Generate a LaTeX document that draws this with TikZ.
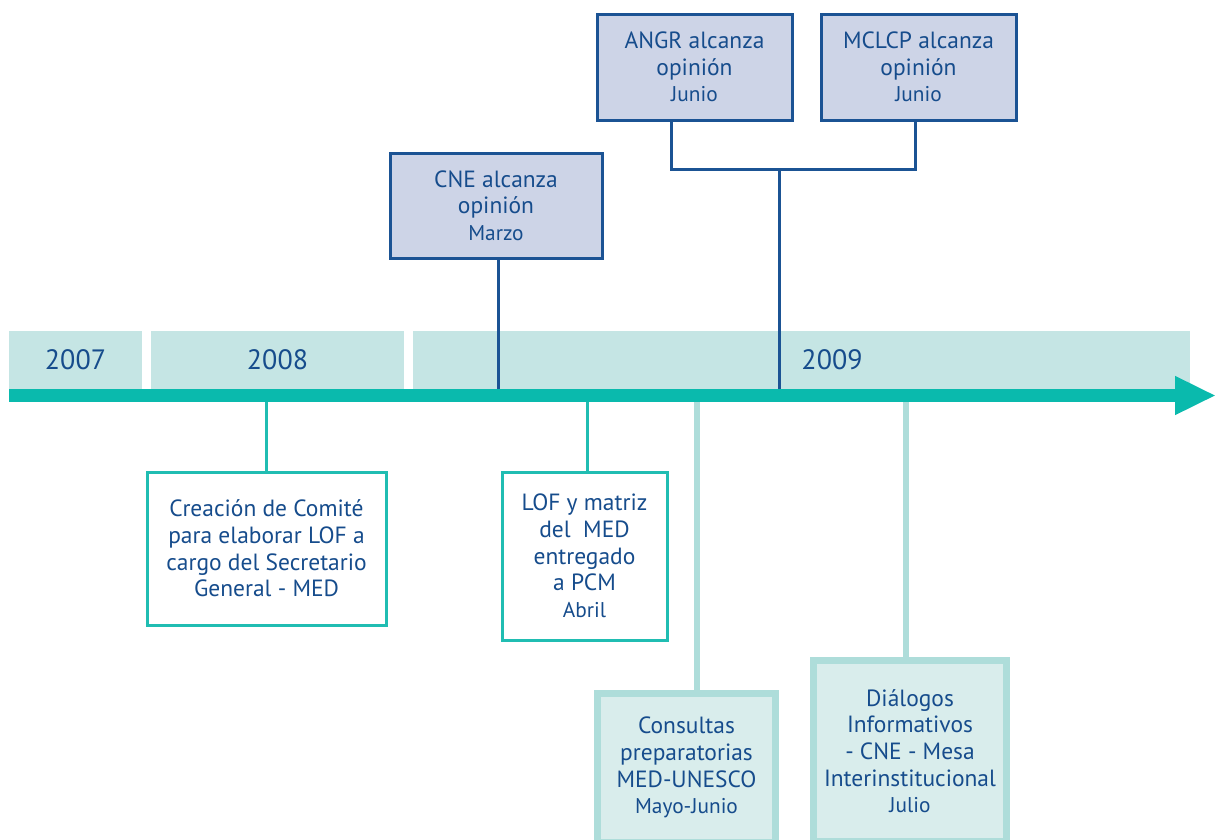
\documentclass[tikz,border=0pt]{standalone}
\usepackage{fontspec}
\setmainfont{PT Sans}
\usetikzlibrary{arrows.meta}

\newcommand\mes[1]{{\fontsize{16}{20}\selectfont #1}}

\begin{document}
\begin{tikzpicture}[x=.75pt,y=-.75pt,
  txt/.style={text=c1,align=center,font=\fontsize{17.6}{20}\selectfont},
  band/.style={fill=c5,minimum height=43.5pt,inner sep=0pt,text=c1,
    font=\fontsize{21}{25}\selectfont},
  topbox/.style={txt,draw=c2,line width=2.25pt,fill=c3},
  lowbox/.style={txt,draw=c4,line width=2.25pt,fill=white},
  palebox/.style={txt,draw=c6,line width=5.25pt,fill=c7},
  topline/.style={draw=c2,line width=2.25pt},
  lowline/.style={draw=c4,line width=2.25pt},
  paleline/.style={draw=c6,line width=4.5pt}]
 \definecolor{c1}{RGB}{22,76,140}
 \definecolor{c2}{RGB}{27,83,148}
 \definecolor{c3}{RGB}{205,212,231}
 \definecolor{c4}{RGB}{32,189,178}
 \definecolor{c5}{RGB}{197,229,228}
 \definecolor{c6}{RGB}{174,221,218}
 \definecolor{c7}{RGB}{217,237,236}
 \definecolor{c8}{RGB}{10,186,173}
 \useasboundingbox (0,0) rectangle (1216,839);
 \foreach \yr/\xc/\bw/\lb in {
   2007/75.5/99.75/2007, 2008/277.5/189.75/2008,
   2009/801.5/582.75/
 } {
   \node[band,minimum width=\bw pt] (b\yr) at (\xc,360) {\lb};
 }
 \node[band,fill=none] (y2009) at (832,360) {2009};
 \coordinate (axtop) at (0,389);
 \coordinate (axbot) at (0,402);
 \coordinate (join) at (779,169);
 % cajas de arriba
 \node[topbox,minimum width=159pt,minimum height=78.75pt] (cne)
   at (496,205.5) {CNE alcanza\\opinión\\\mes{Marzo}};
 \node[topbox,minimum width=146.25pt,minimum height=79.5pt] (angr)
   at (694.5,67) {ANGR alcanza\\opinión\\\mes{Junio}};
 \node[topbox,minimum width=146.25pt,minimum height=79.5pt] (mclcp)
   at (918.5,67) {MCLCP alcanza\\opinión\\\mes{Junio}};
 \draw[topline] ([xshift=1.5pt]cne.south) -- ([xshift=1.5pt]cne.south |- axtop);
 \draw[topline] ([xshift=-16.9pt]angr.south) |- (join) -| ([xshift=-1.9pt]mclcp.south);
 \draw[topline] (join) -- (join |- axtop);
 % cajas de abajo
 \node[lowbox,minimum width=179.25pt,minimum height=114.75pt] (comite)
   at (266.5,548.5) {Creación de Comité\\para elaborar LOF a\\cargo del Secretario\\General - MED};
 \node[lowbox,minimum width=123.75pt,minimum height=126pt] (lof)
   at (584.5,556) {LOF y matriz\\del\ \ MED\\entregado\\a PCM\\\mes{Abril}};
 \node[palebox,minimum width=133.5pt,minimum height=111.4pt] (consultas)
   at (686.5,767.75) {Consultas\\preparatorias\\MED-UNESCO\\\mes{Mayo-Junio}};
 \node[palebox,minimum width=144.75pt,minimum height=136.1pt] (dialogos)
   at (910,751.25) {Diálogos\\Informativos\\- CNE - Mesa\\Interinstitucional\\\mes{Julio}};
 \draw[lowline] (comite.north) -- (comite.north |- axbot);
 \draw[lowline] ([xshift=1.9pt]lof.north) -- ([xshift=1.9pt]lof.north |- axbot);
 \draw[paleline] ([xshift=7.9pt]consultas.north) -- ([xshift=7.9pt]consultas.north |- axbot);
 \draw[paleline] ([xshift=-3pt]dialogos.north) -- ([xshift=-3pt]dialogos.north |- axbot);
 % eje
 \draw[c8,line width=9.75pt,-{Triangle[length=30.75pt,width=27pt]}]
   (9,395.5) -- (1216,395.5);
\end{tikzpicture}
\end{document}
